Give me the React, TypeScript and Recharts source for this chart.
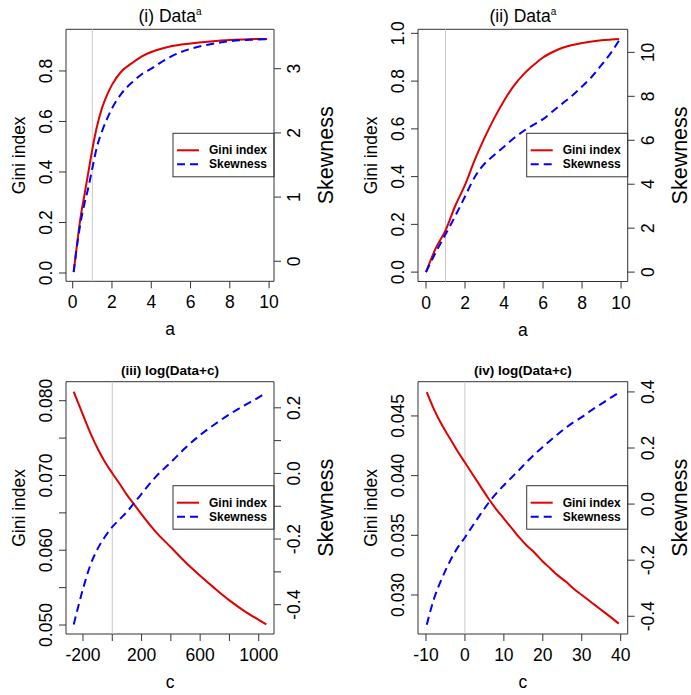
import React from 'react';
import { LineChart, Line, XAxis, YAxis, ReferenceLine, ReferenceArea } from 'recharts';

// ---------- Panel (i) ----------
const p1A = [0.05, 0.2, 0.4, 0.6, 0.8, 1.0, 1.25, 1.5, 1.75, 2.0, 2.5, 3.0, 3.5, 4.0, 4.5, 5.0, 6.0, 7.0, 8.0, 9.0, 9.9];
const p1Gini = [0.005, 0.1, 0.22, 0.31, 0.4, 0.49, 0.585, 0.655, 0.705, 0.745, 0.8, 0.83, 0.857, 0.875, 0.888, 0.898, 0.909, 0.917, 0.923, 0.926, 0.927];
const p1Skew = [-0.17, 0.2, 0.6, 0.9, 1.15, 1.45, 1.8, 2.03, 2.22, 2.38, 2.62, 2.78, 2.91, 3.0, 3.1, 3.19, 3.31, 3.38, 3.43, 3.45, 3.46];
const p1XTicks = [0, 2, 4, 6, 8, 10];
const p1GiniTicks = [0, 0.2, 0.4, 0.6, 0.8];
const p1SkewTicks = [0, 1, 2, 3];

// ---------- Panel (ii) ----------
const p2A = [0, 0.5, 1.0, 1.5, 2.0, 2.5, 3.0, 3.5, 4.0, 4.5, 5.0, 5.5, 6.0, 6.5, 7.0, 7.5, 8.0, 8.5, 9.0, 9.5, 9.9];
const p2Gini = [0.0, 0.1, 0.175, 0.278, 0.365, 0.47, 0.562, 0.645, 0.718, 0.78, 0.828, 0.866, 0.899, 0.922, 0.94, 0.951, 0.96, 0.966, 0.971, 0.974, 0.976];
const p2Skew = [0, 0.9, 1.72, 2.55, 3.44, 4.33, 4.93, 5.33, 5.71, 6.09, 6.42, 6.7, 6.96, 7.32, 7.68, 8.04, 8.45, 8.89, 9.43, 10.0, 10.55];
const p2XTicks = [0, 2, 4, 6, 8, 10];
const p2GiniTicks = [0, 0.2, 0.4, 0.6, 0.8, 1.0];
const p2SkewTicks = [0, 2, 4, 6, 8, 10];

// ---------- Panel (iii) ----------
const p3C = [-263, -200, -150, -100, -50, 0, 50, 100, 150, 200, 300, 400, 500, 600, 700, 800, 900, 1000, 1052];
const p3Gini = [0.0812, 0.0781, 0.0757, 0.0736, 0.0718, 0.0703, 0.0689, 0.0674, 0.0661, 0.0648, 0.0624, 0.0604, 0.0584, 0.0566, 0.0549, 0.0533, 0.0519, 0.0507, 0.0501];
const p3Skew = [-0.46, -0.352, -0.28, -0.23, -0.193, -0.163, -0.14, -0.117, -0.09, -0.062, -0.009, 0.034, 0.078, 0.117, 0.15, 0.18, 0.207, 0.232, 0.247];
const p3XTicks = [-200, 0, 200, 400, 600, 800, 1000];
const p3XLabels = [-200, 200, 600, 1000];
const p3GiniTicks = [0.05, 0.055, 0.06, 0.065, 0.07, 0.075, 0.08];
const p3GiniLabels = [0.05, 0.06, 0.07, 0.08];
const p3SkewTicks = [-0.4, -0.3, -0.2, -0.1, 0, 0.1, 0.2];
const p3SkewLabels = [-0.4, -0.2, 0, 0.2];

// ---------- Panel (iv) ----------
const p4C = [-9.8, -8, -6, -4, -2, 0, 2, 4, 6, 8, 10, 12, 14, 16, 18, 20, 22, 24, 26, 28, 30, 32, 34, 36, 38, 39.5];
const p4Gini = [0.047, 0.0456, 0.0443, 0.0432, 0.0421, 0.0411, 0.0401, 0.0391, 0.0381, 0.0372, 0.0364, 0.0356, 0.0348, 0.0341, 0.0335, 0.0328, 0.0322, 0.0316, 0.0311, 0.0305, 0.03, 0.0295, 0.029, 0.0285, 0.028, 0.0276];
const p4Skew = [-0.43, -0.34, -0.268, -0.208, -0.158, -0.119, -0.077, -0.036, 0.003, 0.037, 0.067, 0.095, 0.123, 0.152, 0.179, 0.204, 0.228, 0.251, 0.273, 0.293, 0.31, 0.33, 0.349, 0.366, 0.384, 0.397];
const p4XTicks = [-10, 0, 10, 20, 30, 40];
const p4GiniTicks = [0.03, 0.035, 0.04, 0.045];
const p4SkewTicks = [-0.4, -0.2, 0, 0.2, 0.4];

const legendNames = ['Gini index', 'Skewness'];

const FONT = '"Liberation Sans", Arial, Helvetica, sans-serif';
const RED = '#e00000';
const BLUE = '#0000ff';
const FRAME = '#333333';

const has = (arr: number[], v: number) => arr.some((a) => Math.abs(a - v) < 1e-9);

type Spec = {
  px: number; py: number; w: number; h: number;
  L: number; T: number; R: number; B: number;
  xs: number[]; gini: number[]; skew: number[];
  xDomain: [number, number]; xTicks: number[]; xLabels: number[];
  gDomain: [number, number]; gTicks: number[]; gLabels: number[]; gDigits: number;
  sDomain: [number, number]; sTicks: number[]; sLabels: number[]; sDigits: number;
  refX: number; title: string; sup?: string; titleBold?: boolean; xTitle: string;
};

function Panel({ s }: { s: Spec }) {
  const data = s.xs.map((v, i) => ({ x: v, gini: s.gini[i], skew: s.skew[i] }));
  const leftW = s.L - s.px;
  const rightW = s.px + s.w - s.R;
  const top = s.T - s.py;
  const xH = s.py + s.h - s.B;
  const pl = leftW;
  const pr = s.R - s.px;
  const pt = top;
  const pb = s.B - s.py;

  const xTick = (props: any) => {
    const v = props.payload.value;
    if (!has(s.xLabels, v)) return <g />;
    return (
      <text x={props.x} y={pb + 27} textAnchor="middle" fontFamily={FONT} fontSize={17.5} fill="#000">
        {String(v)}
      </text>
    );
  };
  const gTick = (props: any) => {
    const v = props.payload.value;
    if (!has(s.gLabels, v)) return <g />;
    const bx = pl - 14;
    return (
      <text x={bx} y={props.y} transform={`rotate(-90 ${bx} ${props.y})`} textAnchor="middle" fontFamily={FONT} fontSize={17.5} fill="#000">
        {v.toFixed(s.gDigits)}
      </text>
    );
  };
  const sTick = (props: any) => {
    const v = props.payload.value;
    if (!has(s.sLabels, v)) return <g />;
    const bx = pr + 26;
    return (
      <text x={bx} y={props.y} transform={`rotate(-90 ${bx} ${props.y})`} textAnchor="middle" fontFamily={FONT} fontSize={17.5} fill="#000">
        {v.toFixed(s.sDigits)}
      </text>
    );
  };

  const cy = (pt + pb) / 2;
  const cx = (pl + pr) / 2;
  const lgL = pr - 101;
  const lgT = pt + 104;

  return (
    <div style={{ position: 'absolute', left: s.px, top: s.py, width: s.w, height: s.h }}>
      <LineChart width={s.w} height={s.h} data={data} margin={{ top, right: 0, bottom: 0, left: 0 }}>
        <XAxis
          type="number" dataKey="x" domain={s.xDomain} ticks={s.xTicks} allowDataOverflow interval={0}
          axisLine={false} tickLine={{ stroke: FRAME }} tickSize={7} height={xH} tick={xTick}
        />
        <YAxis
          yAxisId="left" orientation="left" type="number" domain={s.gDomain} ticks={s.gTicks} allowDataOverflow interval={0}
          axisLine={false} tickLine={{ stroke: FRAME }} tickSize={7} width={leftW} tick={gTick}
        />
        <YAxis
          yAxisId="right" orientation="right" type="number" domain={s.sDomain} ticks={s.sTicks} allowDataOverflow interval={0}
          axisLine={false} tickLine={{ stroke: FRAME }} tickSize={7} width={rightW} tick={sTick}
        />
        <ReferenceLine yAxisId="left" x={s.refX} stroke="#c8c8c8" strokeWidth={1} />
        <Line yAxisId="left" type="monotone" dataKey="gini" stroke={RED} strokeWidth={2} dot={false} isAnimationActive={false} />
        <Line yAxisId="right" type="monotone" dataKey="skew" stroke={BLUE} strokeWidth={2} strokeDasharray="8 5" dot={false} isAnimationActive={false} />
        <ReferenceArea
          yAxisId="left" x1={s.xDomain[0]} x2={s.xDomain[1]} y1={s.gDomain[0]} y2={s.gDomain[1]}
          fill="none" fillOpacity={0} stroke={FRAME} strokeWidth={1} ifOverflow="visible"
        />
        <text x={cx} y={pt - 7} textAnchor="middle" fontFamily={FONT} fontSize={s.titleBold ? 13.5 : 17.5} fontWeight={s.titleBold ? 'bold' : 'normal'} fill="#000">
          {s.title}
          {s.sup ? <tspan dy={-7} fontSize={10}>{s.sup}</tspan> : null}
        </text>
        <text x={cx} y={pb + 54} textAnchor="middle" fontFamily={FONT} fontSize={17.5} fill="#000">{s.xTitle}</text>
        <text x={pl - 41} y={cy} transform={`rotate(-90 ${pl - 41} ${cy})`} textAnchor="middle" fontFamily={FONT} fontSize={17.5} fill="#000">Gini index</text>
        <text x={pr + 59} y={cy} transform={`rotate(-90 ${pr + 59} ${cy})`} textAnchor="middle" fontFamily={FONT} fontSize={21.5} fill="#000">Skewness</text>
        <g>
          <rect x={lgL} y={lgT} width={101} height={43.5} fill="#fff" stroke={FRAME} strokeWidth={1} />
          <line x1={lgL + 4} x2={lgL + 26} y1={lgT + 17} y2={lgT + 17} stroke={RED} strokeWidth={2} />
          <line x1={lgL + 4} x2={lgL + 26} y1={lgT + 31} y2={lgT + 31} stroke={BLUE} strokeWidth={2} strokeDasharray="8 5" />
          <text x={lgL + 36} y={lgT + 21} fontFamily={FONT} fontSize={12} fontWeight="bold" fill="#000">{legendNames[0]}</text>
          <text x={lgL + 36} y={lgT + 35} fontFamily={FONT} fontSize={12} fontWeight="bold" fill="#000">{legendNames[1]}</text>
        </g>
      </LineChart>
    </div>
  );
}

const specs: Spec[] = [
  {
    px: 0, py: 0, w: 345, h: 347, L: 66, T: 29.3, R: 274, B: 281.3,
    xs: p1A, gini: p1Gini, skew: p1Skew,
    xDomain: [-0.341, 10.25], xTicks: p1XTicks, xLabels: p1XTicks,
    gDomain: [-0.0329, 0.965], gTicks: p1GiniTicks, gLabels: p1GiniTicks, gDigits: 1,
    sDomain: [-0.312, 3.614], sTicks: p1SkewTicks, sLabels: p1SkewTicks, sDigits: 0,
    refX: 1, title: '(i) Data', sup: 'a', xTitle: 'a',
  },
  {
    px: 345, py: 0, w: 346, h: 347, L: 418, T: 29.3, R: 627.7, B: 281.5,
    xs: p2A, gini: p2Gini, skew: p2Skew,
    xDomain: [-0.41, 10.34], xTicks: p2XTicks, xLabels: p2XTicks,
    gDomain: [-0.0393, 1.017], gTicks: p2GiniTicks, gLabels: p2GiniTicks, gDigits: 1,
    sDomain: [-0.427, 11.05], sTicks: p2SkewTicks, sLabels: p2SkewTicks, sDigits: 0,
    refX: 1, title: '(ii) Data', sup: 'a', xTitle: 'a',
  },
  {
    px: 0, py: 347, w: 345, h: 348, L: 66, T: 381.7, R: 274, B: 634,
    xs: p3C, gini: p3Gini, skew: p3Skew,
    xDomain: [-315.9, 1104.3], xTicks: p3XTicks, xLabels: p3XLabels,
    gDomain: [0.0488, 0.08254], gTicks: p3GiniTicks, gLabels: p3GiniLabels, gDigits: 3,
    sDomain: [-0.4893, 0.2796], sTicks: p3SkewTicks, sLabels: p3SkewLabels, sDigits: 1,
    refX: 0, title: '(iii) log(Data+c)', titleBold: true, xTitle: 'c',
  },
  {
    px: 345, py: 347, w: 346, h: 348, L: 418, T: 381.7, R: 627.7, B: 634,
    xs: p4C, gini: p4Gini, skew: p4Skew,
    xDomain: [-12.05, 41.8], xTicks: p4XTicks, xLabels: p4XTicks,
    gDomain: [0.02673, 0.04787], gTicks: p4GiniTicks, gLabels: p4GiniTicks, gDigits: 3,
    sDomain: [-0.4632, 0.4364], sTicks: p4SkewTicks, sLabels: p4SkewTicks, sDigits: 1,
    refX: 0, title: '(iv) log(Data+c)', titleBold: true, xTitle: 'c',
  },
];

export default function App() {
  return (
    <div style={{ position: 'absolute', left: 0, top: 0, width: 691, height: 695, background: '#fff' }}>
      {specs.map((s, i) => (
        <Panel key={i} s={s} />
      ))}
    </div>
  );
}
